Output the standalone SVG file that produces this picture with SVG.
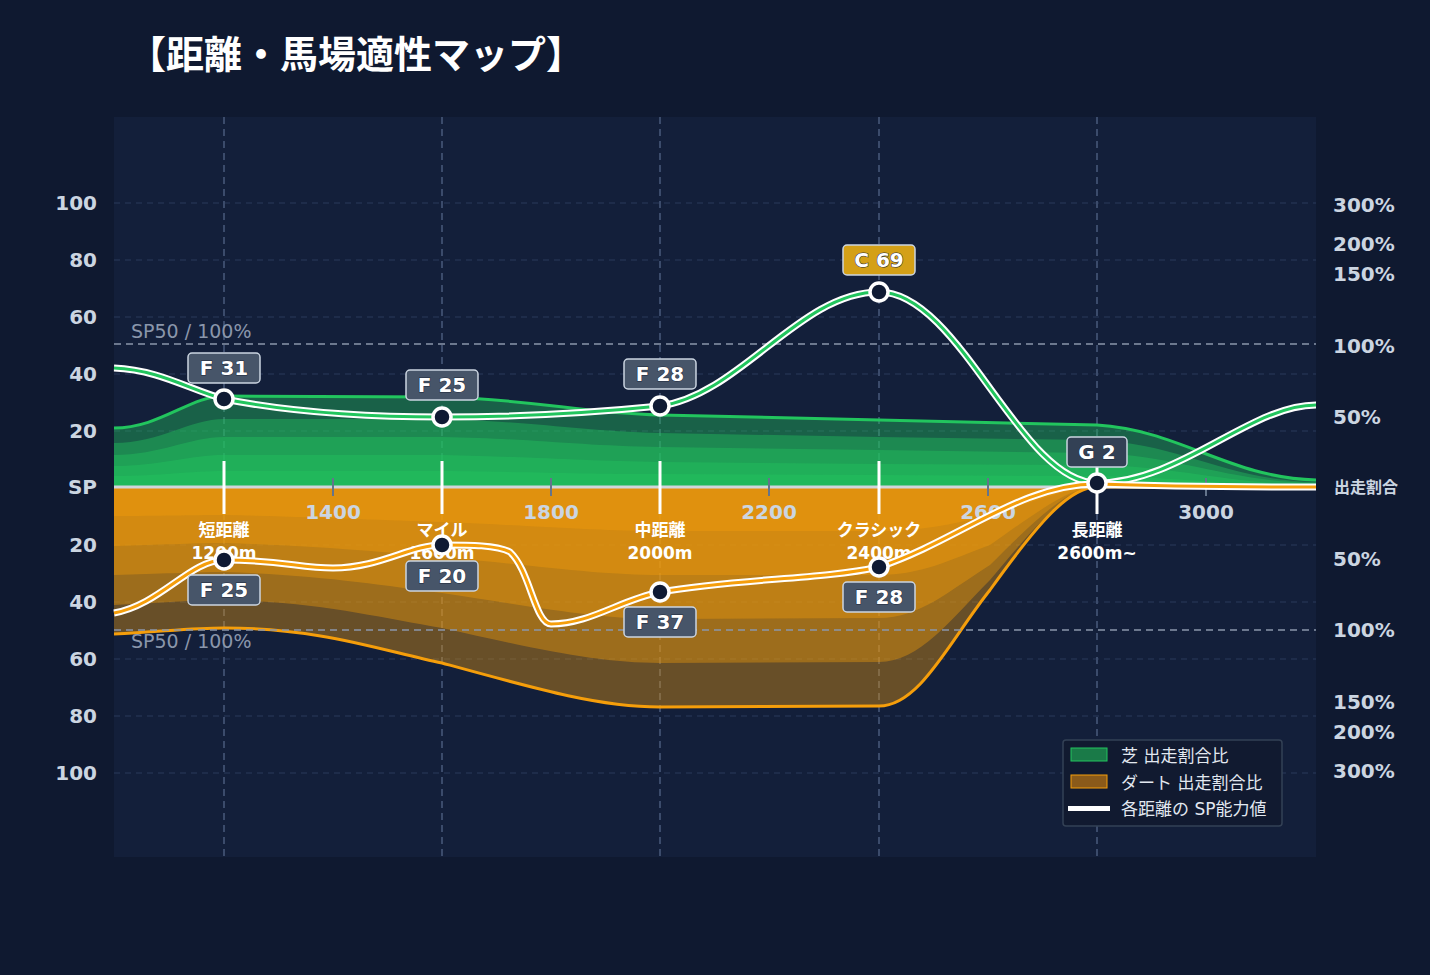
<svg xmlns="http://www.w3.org/2000/svg" width="1430" height="975" viewBox="0 0 1430 975">
<style>
text{font-family:"DejaVu Sans","Noto Sans CJK JP",sans-serif}
.ax{fill:#cbd5e1;font-size:20px;font-weight:bold}
.grid{stroke:#2a3a5a;stroke-width:1;stroke-dasharray:6 5}
.vg{stroke:#3b4b6b;stroke-width:2;stroke-dasharray:7 5}
.sp50{stroke:#8a96ab;stroke-width:1.6;stroke-dasharray:7 5}
.g{fill:#22c55e;opacity:0.4}
.o{fill:#f59e0b;opacity:0.38}
.bd rect{fill:#475569;stroke:#cbd5e1;stroke-width:1.5}
.bd text{fill:#fff;font-size:20px;font-weight:bold;text-anchor:middle;stroke:#1e293b;stroke-width:1;paint-order:stroke}
.pt{fill:#0f1a33;stroke:#fff;stroke-width:3.5}
.cat{fill:#fff;font-size:17px;font-weight:bold;text-anchor:middle}
.lg{fill:#e2e8f0;font-size:17px}
</style>
<rect width="1430" height="975" fill="#0f1930"/>
<rect x="114" y="117" width="1202" height="740" fill="#131f3a"/>
<text x="128" y="68" fill="#fff" font-size="38" font-weight="bold" font-family="Noto Sans CJK JP,sans-serif">【距離・馬場適性マップ】</text>
<g id="grid">
<line class="grid" x1="114" y1="203" x2="1316" y2="203"/><line class="grid" x1="114" y1="260" x2="1316" y2="260"/><line class="grid" x1="114" y1="317" x2="1316" y2="317"/><line class="grid" x1="114" y1="374" x2="1316" y2="374"/><line class="grid" x1="114" y1="431" x2="1316" y2="431"/><line class="grid" x1="114" y1="545" x2="1316" y2="545"/><line class="grid" x1="114" y1="602" x2="1316" y2="602"/><line class="grid" x1="114" y1="659" x2="1316" y2="659"/><line class="grid" x1="114" y1="716" x2="1316" y2="716"/><line class="grid" x1="114" y1="773" x2="1316" y2="773"/>
<line class="vg" x1="224" y1="117" x2="224" y2="857"/><line class="vg" x1="442" y1="117" x2="442" y2="857"/><line class="vg" x1="660" y1="117" x2="660" y2="857"/><line class="vg" x1="879" y1="117" x2="879" y2="857"/><line class="vg" x1="1097" y1="117" x2="1097" y2="857"/>
</g>
<g id="areas">
<path class="g" d="M114,487 L114,428 C160,428 190,396 224,396 L442,397 C540,400 580,413 660,415 L879,420 L1097,425 C1180,430 1230,478 1316,480 L1316,487 Z"/>
<path class="g" d="M114,487 L114,443 C160,443 190,419 224,419 L442,419 C540,422 580,431 660,433 L879,437 L1097,440 C1180,444 1230,481 1316,482 L1316,487 Z"/>
<path class="g" d="M114,487 L114,455 C160,455 190,437 224,437 L442,437 C540,439 580,446 660,447 L879,450 L1097,453 C1180,456 1230,482 1316,483 L1316,487 Z"/>
<path class="g" d="M114,487 L114,466 C160,466 190,455 224,455 L442,455 C540,457 580,461 660,462 L879,464 L1097,465 C1180,467 1230,484 1316,485 L1316,487 Z"/>
<path class="g" d="M114,487 L114,476 C160,476 190,471 224,471 L442,471 C540,472 580,474 660,474 L879,475 L1097,476 C1180,477 1230,486 1316,486 L1316,487 Z"/>
<path d="M114,428 C160,428 190,396 224,396 L442,397 C540,400 580,413 660,415 L879,420 L1097,425 C1180,430 1230,478 1316,480" fill="none" stroke="#22c55e" stroke-width="3"/>
<path class="o" d="M114,487 L114,634 C160,632 190,628 224,628 C320,628 380,650 442,663 C540,690 600,707 660,707 L879,706 C920,706 950,640 990,590 C1040,520 1070,487 1097,487 Z"/>
<path class="o" d="M114,487 L114,605 C160,603 190,600 224,600 C320,602 380,618 442,628 C540,650 600,663 660,663 L879,662 C920,662 950,620 990,580 C1040,520 1070,487 1097,487 Z"/>
<path class="o" d="M114,487 L114,575 C160,574 190,572 224,572 C320,575 380,585 442,593 C540,608 600,619 660,619 L879,618 C920,618 950,590 990,565 C1040,515 1070,487 1097,487 Z"/>
<path class="o" d="M114,487 L114,546 C160,545 190,543 224,543 C320,546 380,552 442,557 C540,566 600,575 660,575 L879,575 C920,575 950,560 990,545 C1040,510 1070,487 1097,487 Z"/>
<path class="o" d="M114,487 L114,516 C160,516 190,515 224,515 C320,517 380,520 442,522 C540,526 600,531 660,531 L879,531 C920,531 950,525 990,515 C1040,500 1070,487 1097,487 Z"/>
<path d="M114,634 C160,632 190,628 224,628 C320,628 380,650 442,663 C540,690 600,707 660,707 L879,706 C920,706 950,640 990,590 C1040,520 1070,487 1097,487 L1316,487" fill="none" stroke="#f59e0b" stroke-width="3"/>
</g>
<line x1="114" y1="487" x2="1316" y2="487" stroke="#d1d5db" stroke-width="3"/>
<line class="sp50" x1="114" y1="344" x2="1316" y2="344"/>
<line class="sp50" x1="114" y1="630" x2="1316" y2="630"/>
<text x="131" y="338" fill="#8a96ab" font-size="19">SP50 / 100%</text>
<text x="131" y="648" fill="#8a96ab" font-size="19">SP50 / 100%</text>
<g id="axes">
<g class="ax" text-anchor="end">
<text x="97" y="210">100</text><text x="97" y="267">80</text><text x="97" y="324">60</text><text x="97" y="381">40</text><text x="97" y="438">20</text><text x="97" y="494">SP</text><text x="97" y="552">20</text><text x="97" y="609">40</text><text x="97" y="666">60</text><text x="97" y="723">80</text><text x="97" y="780">100</text>
</g>
<g class="ax">
<text x="1333" y="212">300%</text><text x="1333" y="251">200%</text><text x="1333" y="281">150%</text><text x="1333" y="353">100%</text><text x="1333" y="424">50%</text><text x="1334" y="493" font-size="16">出走割合</text><text x="1333" y="566">50%</text><text x="1333" y="637">100%</text><text x="1333" y="709">150%</text><text x="1333" y="739">200%</text><text x="1333" y="778">300%</text>
</g>
<g class="ax" text-anchor="middle" font-size="21">
<text x="333" y="519">1400</text><text x="551" y="519">1800</text><text x="769" y="519">2200</text><text x="988" y="519">2600</text><text x="1206" y="519">3000</text>
</g>
<g stroke="#64748b" stroke-width="2">
<line x1="333" y1="478" x2="333" y2="496"/><line x1="551" y1="478" x2="551" y2="496"/><line x1="769" y1="478" x2="769" y2="496"/><line x1="988" y1="478" x2="988" y2="496"/><line x1="1206" y1="478" x2="1206" y2="496"/>
</g>
</g>
<g id="categories">
<g stroke="#fff" stroke-width="3"><line x1="224" y1="461" x2="224" y2="514"/><line x1="442" y1="461" x2="442" y2="514"/><line x1="660" y1="461" x2="660" y2="514"/><line x1="879" y1="461" x2="879" y2="514"/><line x1="1097" y1="461" x2="1097" y2="514"/></g>
<text class="cat" x="224" y="536">短距離</text><text class="cat" x="224" y="559">1200m</text>
<text class="cat" x="442" y="536">マイル</text><text class="cat" x="442" y="559">1600m</text>
<text class="cat" x="660" y="536">中距離</text><text class="cat" x="660" y="559">2000m</text>
<text class="cat" x="879" y="536">クラシック</text><text class="cat" x="879" y="559">2400m</text>
<text class="cat" x="1097" y="536">長距離</text><text class="cat" x="1097" y="559">2600m~</text>
</g>
<g id="connectors">
<path d="M114,368 C160,370 190,390 224,399 C300,414 380,417 442,417 C520,417 600,412 660,406 C740,395 800,292 879,292 C960,292 1020,483 1097,483 C1180,483 1250,405 1316,405" fill="none" stroke="#fff" stroke-width="7"/>
<path d="M114,368 C160,370 190,390 224,399 C300,414 380,417 442,417 C520,417 600,412 660,406 C740,395 800,292 879,292 C960,292 1020,483 1097,483 C1180,483 1250,405 1316,405" fill="none" stroke="#22c55e" stroke-width="3"/>
<path d="M114,613 C160,605 190,560 224,560 C280,560 300,568 333,568 C380,568 410,545 442,545 C470,545 497,545 510,552 C530,570 535,624 551,624 C590,624 620,600 660,592 C740,578 820,580 879,567 C960,540 1020,484 1097,484 C1180,487 1250,487 1316,487" fill="none" stroke="#fff" stroke-width="7"/>
<path d="M114,613 C160,605 190,560 224,560 C280,560 300,568 333,568 C380,568 410,545 442,545 C470,545 497,545 510,552 C530,570 535,624 551,624 C590,624 620,600 660,592 C740,578 820,580 879,567 C960,540 1020,484 1097,484 C1180,487 1250,487 1316,487" fill="none" stroke="#f59e0b" stroke-width="3"/>
</g>
<g id="n1" class="bd"><rect x="188" y="353" width="72" height="30" rx="4"/><text x="224" y="375">F 31</text><circle class="pt" cx="224" cy="399" r="9"/></g>
<g id="n2" class="bd"><rect x="406" y="370" width="72" height="30" rx="4"/><text x="442" y="392">F 25</text><circle class="pt" cx="442" cy="417" r="9"/></g>
<g id="n3" class="bd"><rect x="624" y="359" width="72" height="30" rx="4"/><text x="660" y="381">F 28</text><circle class="pt" cx="660" cy="406" r="9"/></g>
<g id="n4" class="bd"><rect x="843" y="245" width="72" height="30" rx="4" style="fill:#d4a017"/><text x="879" y="267">C 69</text><circle class="pt" cx="879" cy="292" r="9"/></g>
<g id="n5" class="bd"><rect x="1067" y="437" width="60" height="30" rx="4" style="fill:#334155"/><text x="1097" y="459">G 2</text><circle class="pt" cx="1097" cy="483" r="9"/></g>
<g id="n6" class="bd"><circle class="pt" cx="224" cy="560" r="9"/><rect x="188" y="575" width="72" height="30" rx="4"/><text x="224" y="597">F 25</text></g>
<g id="n7" class="bd"><circle class="pt" cx="442" cy="545" r="9"/><rect x="406" y="561" width="72" height="30" rx="4"/><text x="442" y="583">F 20</text></g>
<g id="n8" class="bd"><circle class="pt" cx="660" cy="592" r="9"/><rect x="624" y="607" width="72" height="30" rx="4"/><text x="660" y="629">F 37</text></g>
<g id="n9" class="bd"><circle class="pt" cx="879" cy="567" r="9"/><rect x="843" y="582" width="72" height="30" rx="4"/><text x="879" y="604">F 28</text></g>
<g id="legend">
<rect x="1063" y="740" width="219" height="86" rx="3" fill="#111a30" stroke="#334155" stroke-width="1.5"/>
<rect x="1071" y="748" width="36" height="13" fill="#1a7a48" stroke="#22c55e" stroke-width="1"/>
<rect x="1071" y="775" width="36" height="13" fill="#8a5a1a" stroke="#f59e0b" stroke-width="1"/>
<rect x="1068" y="806" width="42" height="5" fill="#fff"/>
<text class="lg" x="1121" y="762">芝 出走割合比</text>
<text class="lg" x="1121" y="789">ダート 出走割合比</text>
<text class="lg" x="1121" y="815">各距離の SP能力値</text>
</g>
</svg>
